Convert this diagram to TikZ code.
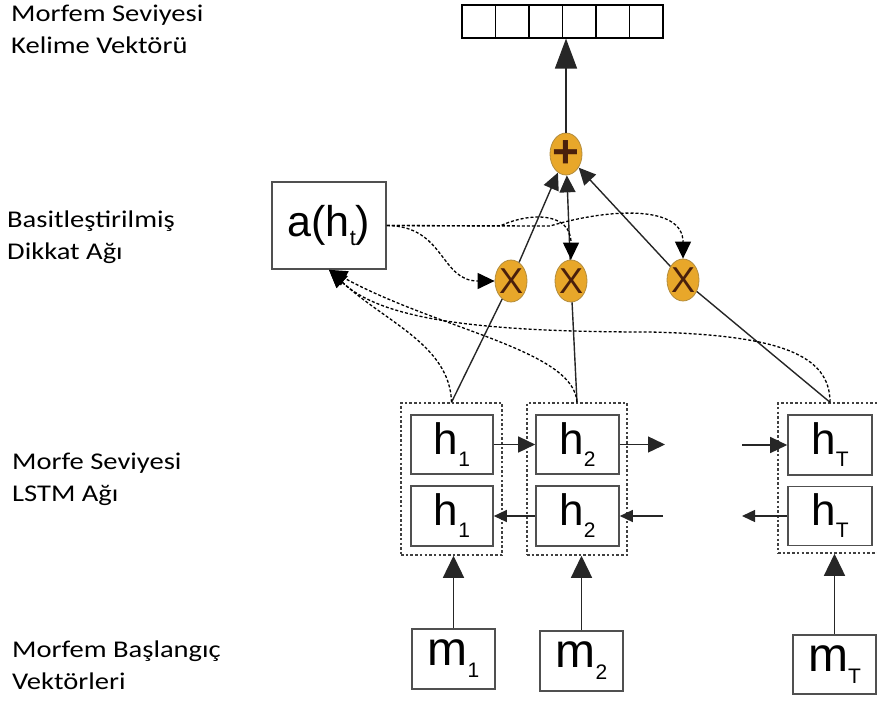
\documentclass[tikz,border=0pt]{standalone}
\usepackage{fontspec}
\setmainfont{Carlito}[FakeStretch=1.19]
\newfontfamily\arialfont{Liberation Sans}
\usetikzlibrary{shapes.geometric,arrows.meta}
\definecolor{boxgray}{HTML}{505050}
\definecolor{gold}{HTML}{E8A72A}
\definecolor{goldedge}{HTML}{B38C3C}
\definecolor{xbrown}{HTML}{4A200C}
\newcommand{\hsub}[3][44]{{\arialfont\fontsize{#1}{#1}\selectfont #2\raisebox{-12pt}{\fontsize{21}{21}\selectfont #3}}}

\begin{document}
\begin{tikzpicture}[x=1pt,y=-1pt,
    cell/.style={draw, line width=1.1pt, minimum width=33.5pt, minimum height=33pt, inner sep=0pt},
    hbox/.style={draw=boxgray, line width=1.6pt, minimum width=83pt, minimum height=59pt, inner sep=0pt},
    grp/.style={draw=black!75, line width=1.5pt, dash pattern=on 2.5pt off 2.2pt, minimum width=101pt, minimum height=152pt, inner sep=0pt},
    op/.style={ellipse, draw=goldedge, fill=gold, line width=.8pt, minimum width=32pt, minimum height=42pt, inner sep=0pt},
    lbl/.style={anchor=north west, align=left, inner sep=0pt, font=\fontsize{24}{32.5}\selectfont, text=black},
    line/.style={line width=1.4pt, draw=black!85},
    attn/.style={line width=1.3pt, dash pattern=on 3pt off 2pt},
    arr/.style={-{Triangle[length=17pt,width=16pt]}},
    bigarr/.style={-{Triangle[length=22pt,width=21pt]}},
    smallarr/.style={-{Triangle[length=13pt,width=12pt]}}]
    \useasboundingbox (0,0) rectangle (877,704);

    % labels on the left
        \node (lvec) at (11,4.5) [lbl] {Morfem Seviyesi\\Kelime Vektörü};
        \node (latt) at (7,210.5) [lbl] {Basitleştirilmiş\\Dikkat Ağı};
        \node (llstm) at (12,452.5) [lbl] {Morfe Seviyesi\\LSTM Ağı};
        \node (lmor) at (12,640.5) [lbl] {Morfem Başlangıç\\Vektörleri};

    % word vector
        \foreach \i in {1,...,6}
            \node (c\i) at ({462+33.5*(\i-0.5)},21.5) [cell] {};

    % plus and product nodes
        \node (plus) at (566,154) [op, label={[font=\arialfont\bfseries\fontsize{46}{46}\selectfont, text=xbrown]center:+}] {};
        \node (x1) at (511,281) [op, label={[font=\arialfont\fontsize{36}{36}\selectfont, text=xbrown]center:X}] {};
        \node (x2) at (571,281) [op, label={[font=\arialfont\fontsize{36}{36}\selectfont, text=xbrown]center:X}] {};
        \node (x3) at (683,280) [op, label={[font=\arialfont\fontsize{36}{36}\selectfont, text=xbrown]center:X}] {};

    % attention box
        \node (a) at (329,225.5) [draw=boxgray, line width=1.6pt, minimum width=114pt, minimum height=87pt, inner sep=0pt]
            {\arialfont\fontsize{43}{43}\selectfont a(h\raisebox{-9pt}{\fontsize{22}{22}\selectfont t})};

    % LSTM cells
        \node (g1) at (451.5,479) [grp] {};
        \node (g2) at (577,479) [grp, minimum width=100pt] {};
        \node (gT) at (830,478) [grp, minimum width=104pt, minimum height=150pt] {};
        \node (h1t) at (452,444.5) [hbox, minimum width=82pt] {\hsub{h}{1}};
        \node (h1b) at (452,516) [hbox, minimum width=82pt, minimum height=60pt] {\hsub{h}{1}};
        \node (h2t) at (577.5,444.5) [hbox] {\hsub{h}{2}};
        \node (h2b) at (577.5,516) [hbox, minimum height=60pt] {\hsub{h}{2}};
        \node (hTt) at (830,445) [hbox, minimum width=84pt, minimum height=60pt] {\hsub{h}{T}};
        \node (hTb) at (830,516) [hbox, minimum width=84pt] {\hsub{h}{T}};

    % morpheme inputs
        \node (m1) at (453.5,659) [hbox, minimum height=60pt] {\hsub[48]{m}{1}};
        \node (m2) at (581.5,661) [hbox, minimum height=60pt] {\hsub[48]{m}{2}};
        \node (mT) at (834.5,664.5) [hbox] {\hsub[48]{m}{T}};

        \coordinate (r1) at (665,444.5);
        \coordinate (l1) at (742,445);
        \coordinate (r2) at (663,516);
        \coordinate (l2) at (742,516);

        \draw[line, bigarr] (m1.north) to (m1.north |- g1.south);
        \draw[line, bigarr] (m2.north) to (m2.north |- g2.south);
        \draw[line, bigarr] (mT.north) to (mT.north |- gT.south);

        \draw[line, arr] (h1t) to (h2t);
        \draw[line, arr] (h2t) to (r1);
        \draw[line, arr] (l1) to (hTt);
        \draw[line, smallarr] (h2b) to (h1b);
        \draw[line, smallarr] (r2) to (h2b);
        \draw[line, smallarr] (hTb) to (l2);

        \draw[line] (g1.north) to (x1) (g2.north) to (x2) (gT.north) to (x3);
        \draw[line, arr] (x1) to (plus);
        \draw[line, arr] (x2) to (plus);
        \draw[line, arr] (x3) to (plus);
        \draw[line, -{Triangle[length=30pt,width=22pt]}] (plus.north) to (plus.north |- c3.south);

    % attention weights
        \draw[attn, arr] (a.east) .. controls (445,226) and (440,281) .. (x1.west);
        \draw[attn, arr] (a.east) -- (500,226) .. controls (530,212) and (571,212) .. (x2.north);
        \draw[attn, arr] (a.east) -- (550,226) .. controls (610,208) and (683,205) .. (x3.north);

        \draw[attn, -{Triangle[length=18pt,width=16pt]}] (g1.north) .. controls (450,345) and (385,322) .. (a.south);
        \draw[attn, -{Triangle[length=18pt,width=16pt]}] (g2.north) .. controls (574,350) and (440,330) .. (a.south);
        \draw[attn, -{Triangle[length=18pt,width=16pt]}] (gT.north) .. controls (830,355) and (780,335) .. (650,332)
            .. controls (470,332) and (380,318) .. (a.south);
  \end{tikzpicture}
\end{document}
